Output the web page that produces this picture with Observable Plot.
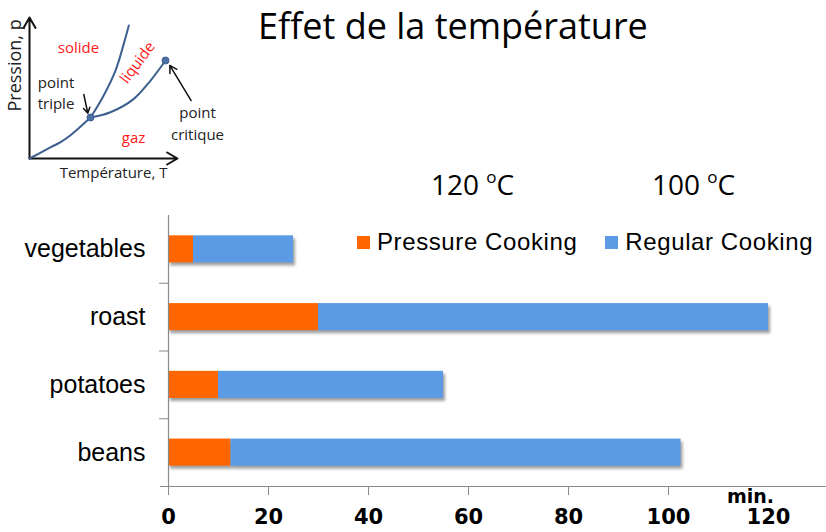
<!DOCTYPE html>
<html>
<head>
<meta charset="utf-8">
<script src="https://cdn.jsdelivr.net/npm/d3@7"></script>
<script src="https://cdn.jsdelivr.net/npm/@observablehq/plot@0.6"></script>
<style>
  html, body { margin: 0; padding: 0; background: #fff; }
  #wrap { position: relative; width: 826px; height: 532px; overflow: hidden; }
  #inset { position: absolute; left: 0; top: 0; }
  #chart { position: absolute; left: 0; top: 200px; }
  .title { position: absolute; left: 258px; top: 8px; font: 36px/1 "Open Sans", sans-serif; color: #000; white-space: nowrap; }
  .temp { position: absolute; top: 170px; font: 28px/1 "Open Sans", sans-serif; color: #000; white-space: nowrap; }
  .temp sup { font-size: 17px; vertical-align: 0; position: relative; top: -12px; }
  .legend { position: absolute; top: 230px; left: 357px; display: flex; gap: 28px; font: 24px/1 "Liberation Sans", Arial, sans-serif; letter-spacing: 0.6px; color: #000; white-space: nowrap; }
  .legend .item { display: flex; align-items: center; }
  .legend .sw { width: 13px; height: 13px; margin-right: 7px; position: relative; top: 0px; }
</style>
</head>
<body>
<div id="wrap">
  <div id="inset"></div>
  <div class="title">Effet de la température</div>
  <div id="temps"></div>
  <div id="chart"></div>
  <div class="legend" id="legend"></div>
</div>
<script>
// Cooking times in minutes, by food
const foods = ["vegetables", "roast", "potatoes", "beans"];
const pressureMinutes = [5, 30, 10, 12.5];
const regularMinutes = [20, 90, 45, 90];
const series = ["Pressure Cooking", "Regular Cooking"];
const seriesColors = ["#ff6600", "#5b9be6"];
const seriesTemps = [120, 100];
const xTicks = [0, 20, 40, 60, 80, 100, 120];
const unitLabel = "min.";

// Phase diagram sketch (arbitrary units, 0–100 on both axes)
const sublimationCurve = [[0, 0], [14.4, 8], [21, 11.6], [27.7, 16.5], [41.2, 29.1]];
const fusionCurve = [[41.2, 29.1], [49.5, 43.5], [58.1, 62.4], [63.7, 81.3], [67.1, 94.3]];
const vaporCurve = [[41.2, 29.1], [54.7, 32.8], [70.5, 42.3], [81.8, 55.3], [91.9, 69.5]];
const triplePoint = [41.2, 29.1];
const criticalPoint = [91.9, 69.5];
const phaseLabels = [
  {text: "solide", x: 33.1, y: 78, rotate: 0},
  {text: "liquide", x: 73, y: 68, rotate: -53},
  {text: "gaz", x: 70.3, y: 14.2, rotate: 0}
];
const pointLabels = [
  {text: "point\ntriple", x: 17.9, y: 47.5},
  {text: "point\ncritique", x: 113.5, y: 25.9}
];
const pointerArrows = [
  {x1: 36.7, y1: 45.4, x2: 39.4, y2: 32.1},
  {x1: 109.2, y1: 41.1, x2: 94.8, y2: 66}
];

// ---- temperature labels and legend ----
const tempLeft = [431, 652];
seriesTemps.forEach((t, i) => {
  const el = document.createElement("div");
  el.className = "temp";
  el.style.left = tempLeft[i] + "px";
  el.innerHTML = `${t} <sup>o</sup>C`;
  document.getElementById("temps").appendChild(el);
});
series.forEach((s, i) => {
  const item = document.createElement("div");
  item.className = "item";
  item.innerHTML = `<span class="sw" style="background:${seriesColors[i]}"></span><span>${s}</span>`;
  document.getElementById("legend").appendChild(item);
});

// ---- phase diagram inset ----
const curveColor = "#3d5f8f";
const insetFont = "'Open Sans', sans-serif";
const inset = Plot.plot({
  width: 240, height: 190,
  margin: 0,
  x: {domain: [0, 100], range: [29, 177], axis: null},
  y: {domain: [0, 100], range: [158, 17], axis: null},
  style: {fontFamily: insetFont, background: "transparent"},
  marks: [
    Plot.arrow([{x1: 0, y1: 0, x2: 100, y2: 0}, {x1: 0, y1: 0, x2: 0, y2: 100}],
      {x1: "x1", y1: "y1", x2: "x2", y2: "y2", stroke: "#111", strokeWidth: 2, headLength: 9}),
    Plot.line(sublimationCurve, {x: d => d[0], y: d => d[1], curve: "catmull-rom", stroke: curveColor, strokeWidth: 2}),
    Plot.line(fusionCurve, {x: d => d[0], y: d => d[1], curve: "catmull-rom", stroke: curveColor, strokeWidth: 2}),
    Plot.line(vaporCurve, {x: d => d[0], y: d => d[1], curve: "catmull-rom", stroke: curveColor, strokeWidth: 2}),
    Plot.dot([triplePoint, criticalPoint], {x: d => d[0], y: d => d[1], r: 3.5, fill: "#4a70a6", stroke: curveColor, strokeWidth: 1}),
    Plot.arrow(pointerArrows, {x1: "x1", y1: "y1", x2: "x2", y2: "y2", stroke: "#111", strokeWidth: 1.5, headLength: 8}),
    Plot.text(phaseLabels, {x: "x", y: "y", text: "text", rotate: "rotate", fill: "#ff1a1a", fontSize: 15}),
    Plot.text(pointLabels, {x: "x", y: "y", text: "text", fill: "#222", fontSize: 15, lineHeight: 1.45}),
    Plot.text(["Température, T"], {x: 56.8, y: -10.6, fill: "#222", fontSize: 15}),
    Plot.text(["Pression, p"], {x: -9.5, y: 66, rotate: -90, fill: "#222", fontSize: 18})
  ]
});
document.getElementById("inset").appendChild(inset);

// ---- stacked cooking-time bars ----
const rows = foods.flatMap((food, i) => [
  {food, i, series: series[0], x1: 0, x2: pressureMinutes[i]},
  {food, i, series: series[1], x1: pressureMinutes[i], x2: pressureMinutes[i] + regularMinutes[i]}
]);
const axisGray = "#8a8a8a";
const barHalf = 0.2;
const labelFont = "'Liberation Sans', Arial, sans-serif";
const tickFont = "'DejaVu Sans', sans-serif";

const chart = Plot.plot({
  width: 826, height: 332,
  marginTop: 15, marginBottom: 46, marginLeft: 160, marginRight: 0,
  x: {domain: [xTicks[0], xTicks[xTicks.length - 1]], range: [168, 768]},
  y: {domain: [foods.length - 0.5, -0.5]},
  color: {domain: series, range: seriesColors},
  style: {fontFamily: labelFont, background: "transparent"},
  marks: [
    Plot.rectX(rows, {x1: "x1", x2: "x2", y1: d => d.i - barHalf, y2: d => d.i + barHalf, fill: "series"}),
    Plot.ruleX([0], {stroke: axisGray, strokeWidth: 1.2}),
    Plot.ruleY([foods.length - 0.5], {stroke: axisGray, strokeWidth: 1.2}),
    // category separators on the left axis
    Plot.axisY(d3.range(0.5, foods.length - 1, 1), {anchor: "left", tickSize: 9, dx: 8, tickFormat: () => "", stroke: axisGray, label: null}),
    Plot.axisY(foods.map((_, i) => i), {anchor: "left", tickSize: 0, tickPadding: 15, tickFormat: i => foods[i], fontSize: 25, fill: "#000", label: null}),
    // the last tick stays bare under the unit label
    Plot.axisX(xTicks.slice(0, -1), {anchor: "bottom", tickSize: 9, tickFormat: () => "", stroke: axisGray, label: null}),
    Plot.axisX(xTicks, {anchor: "bottom", tickSize: 0, tickPadding: 23, fontSize: 21, fontWeight: "bold", fontFamily: tickFont, fill: "#000", label: null}),
    Plot.text([unitLabel], {x: xTicks[xTicks.length - 1], frameAnchor: "bottom", dx: -18, dy: 16, lineAnchor: "bottom", fontSize: 19, fontWeight: "bold", fontFamily: tickFont, fill: "#000"})
  ]
});
const barGroup = chart.querySelector('g[aria-label="rect"]');
if (barGroup) barGroup.style.filter = "drop-shadow(2px 3px 1.5px rgba(0,0,0,0.38))";
document.getElementById("chart").appendChild(chart);
</script>
</body>
</html>
